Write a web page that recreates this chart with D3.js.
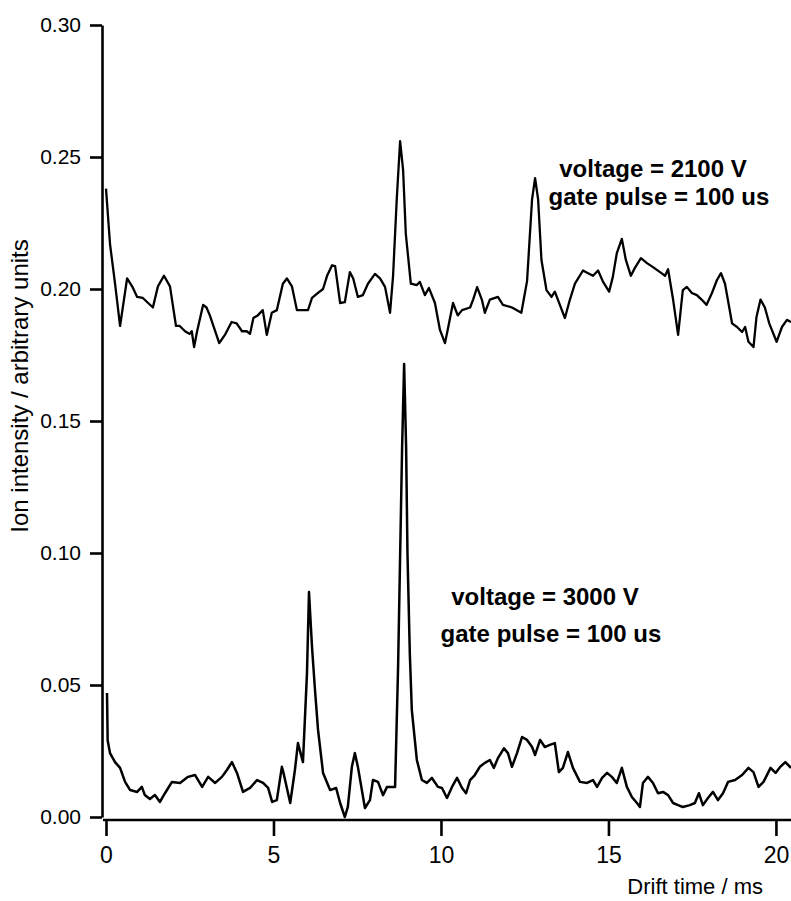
<!DOCTYPE html>
<html>
<head>
<meta charset="utf-8">
<script src="https://cdn.jsdelivr.net/npm/d3@7"></script>
<style>
  body { margin: 0; background: #fff; }
  svg { display: block; font-family: Arial, "Liberation Sans", sans-serif; }
</style>
</head>
<body>
<svg width="791" height="901"></svg>
<script>
// drift time (ms), ion intensity for the 2100 V run
var upperTrace = [
  [0.00,0.238],[0.12,0.217],[0.27,0.202],[0.42,0.186],[0.63,0.204],[0.78,0.201],[0.93,0.197],
  [1.10,0.1966],[1.40,0.193],[1.55,0.201],[1.73,0.205],[1.91,0.201],[2.09,0.186],[2.20,0.186],
  [2.36,0.184],[2.50,0.183],[2.56,0.184],[2.63,0.178],[2.72,0.184],[2.90,0.194],[3.00,0.193],
  [3.10,0.190],[3.38,0.1795],[3.55,0.1826],[3.75,0.1875],[3.90,0.187],[4.06,0.184],[4.20,0.184],
  [4.30,0.183],[4.40,0.189],[4.53,0.190],[4.68,0.192],[4.80,0.1826],[4.95,0.191],[5.10,0.192],
  [5.28,0.202],[5.40,0.204],[5.55,0.201],[5.70,0.192],[6.03,0.192],[6.15,0.1966],[6.33,0.1985],
  [6.48,0.200],[6.60,0.205],[6.75,0.209],[6.84,0.2087],[6.99,0.1947],[7.13,0.195],[7.28,0.2064],
  [7.38,0.204],[7.52,0.197],[7.67,0.1977],[7.82,0.202],[8.03,0.2057],[8.18,0.204],[8.33,0.2008],
  [8.48,0.191],[8.57,0.205],[8.68,0.234],[8.78,0.256],[8.87,0.245],[8.95,0.221],[9.10,0.202],
  [9.28,0.2015],[9.37,0.2027],[9.52,0.1977],[9.64,0.2004],[9.82,0.1947],[9.97,0.1845],
  [10.12,0.1795],[10.20,0.1845],[10.36,0.1947],[10.50,0.190],[10.63,0.192],[10.87,0.193],
  [10.96,0.196],[11.08,0.2007],[11.22,0.196],[11.31,0.191],[11.46,0.196],[11.70,0.197],
  [11.85,0.194],[12.12,0.193],[12.40,0.191],[12.57,0.203],[12.72,0.234],[12.81,0.242],
  [12.90,0.234],[13.00,0.211],[13.15,0.1996],[13.30,0.197],[13.40,0.199],[13.55,0.194],
  [13.70,0.189],[13.85,0.196],[14.00,0.202],[14.24,0.207],[14.39,0.206],[14.54,0.205],
  [14.69,0.207],[14.84,0.2027],[15.02,0.199],[15.13,0.2045],[15.25,0.2136],[15.40,0.219],
  [15.52,0.211],[15.67,0.205],[15.79,0.208],[15.97,0.2117],[16.15,0.2098],[16.33,0.2083],
  [16.54,0.2064],[16.69,0.205],[16.78,0.2075],[16.93,0.196],[17.08,0.1826],[17.22,0.1996],
  [17.34,0.2008],[17.49,0.1985],[17.64,0.1977],[17.78,0.196],[17.93,0.194],[18.09,0.1985],
  [18.24,0.2034],[18.36,0.206],[18.48,0.202],[18.69,0.187],[18.84,0.1856],[18.99,0.1837],
  [19.08,0.1856],[19.18,0.180],[19.33,0.178],[19.42,0.1894],[19.54,0.196],[19.67,0.193],
  [19.80,0.187],[20.02,0.180],[20.18,0.1856],[20.33,0.1883],[20.45,0.1875]
];

// drift time (ms), ion intensity for the 3000 V run
var lowerTrace = [
  [0.03,0.047],[0.05,0.029],[0.12,0.0242],[0.27,0.0208],[0.42,0.0186],[0.57,0.0133],[0.72,0.0102],
  [0.93,0.0095],[1.07,0.0114],[1.16,0.0083],[1.31,0.0068],[1.46,0.0083],[1.61,0.0057],[1.76,0.009],
  [1.97,0.0133],[2.21,0.0129],[2.45,0.0152],[2.66,0.0159],[2.87,0.0114],[3.05,0.0152],[3.26,0.0129],
  [3.46,0.0152],[3.61,0.0178],[3.76,0.0208],[3.91,0.0167],[4.09,0.0095],[4.30,0.011],[4.51,0.014],
  [4.69,0.0129],[4.84,0.011],[4.96,0.0057],[5.10,0.0064],[5.25,0.019],[5.30,0.0167],[5.50,0.0053],
  [5.64,0.0178],[5.73,0.028],[5.88,0.0208],[6.00,0.0545],[6.06,0.0852],[6.15,0.0644],[6.24,0.048],
  [6.33,0.033],[6.48,0.0167],[6.69,0.0102],[6.87,0.011],[6.99,0.0053],[7.13,0.000],[7.22,0.0038],
  [7.34,0.019],[7.43,0.0242],[7.52,0.019],[7.73,0.0034],[7.88,0.0064],[7.97,0.014],[8.12,0.0133],
  [8.27,0.0083],[8.39,0.0114],[8.63,0.0114],[8.72,0.0568],[8.84,0.140],[8.90,0.1716],[8.96,0.140],
  [9.00,0.100],[9.07,0.062],[9.13,0.0405],[9.28,0.0216],[9.43,0.014],[9.58,0.0129],[9.73,0.0148],
  [9.91,0.0114],[10.03,0.011],[10.18,0.0072],[10.33,0.0114],[10.48,0.0148],[10.63,0.011],
  [10.75,0.009],[10.87,0.014],[11.01,0.0159],[11.16,0.019],[11.31,0.0205],[11.46,0.0216],
  [11.58,0.0186],[11.70,0.0223],[11.88,0.026],[12.00,0.0242],[12.12,0.019],[12.27,0.0242],
  [12.42,0.0303],[12.57,0.0292],[12.72,0.0265],[12.81,0.0235],[12.96,0.0292],[13.10,0.0265],
  [13.25,0.0273],[13.40,0.028],[13.52,0.017],[13.64,0.0186],[13.79,0.0246],[13.94,0.0186],
  [14.15,0.0133],[14.36,0.0129],[14.54,0.014],[14.66,0.0114],[14.81,0.0148],[14.96,0.0167],
  [15.10,0.0152],[15.25,0.0129],[15.40,0.0186],[15.55,0.0114],[15.70,0.0076],[15.85,0.0053],
  [15.94,0.0038],[16.03,0.0129],[16.18,0.0152],[16.33,0.0129],[16.48,0.009],[16.63,0.0095],
  [16.78,0.0083],[16.93,0.0053],[17.08,0.0045],[17.22,0.0038],[17.43,0.0045],[17.58,0.0053],
  [17.70,0.009],[17.82,0.0045],[17.97,0.0072],[18.12,0.0095],[18.27,0.0064],[18.42,0.009],
  [18.57,0.0133],[18.78,0.014],[18.99,0.0159],[19.18,0.0186],[19.33,0.017],[19.48,0.0114],
  [19.63,0.0133],[19.84,0.0186],[19.99,0.0167],[20.13,0.019],[20.28,0.0208],[20.45,0.0186]
];

var xTicks = [0, 5, 10, 15, 20];
var yTicks = [0, 0.05, 0.10, 0.15, 0.20, 0.25, 0.30];

var svg = d3.select("svg");

var x = d3.scaleLinear().domain([0, 20.45]).range([106, 791]);
var y = d3.scaleLinear().domain([0, 0.30]).range([817, 25]);

// y axis
var yAxis = svg.append("g")
    .attr("transform", "translate(102,0)")
    .call(d3.axisLeft(y).tickValues(yTicks).tickFormat(d3.format(".2f")).tickSize(12).tickSizeOuter(0).tickPadding(9));
yAxis.selectAll("text").style("font-size", "21px").attr("fill", "#000");

// x axis
var xAxis = svg.append("g")
    .attr("transform", "translate(0,820)")
    .call(d3.axisBottom(x).tickValues(xTicks).tickFormat(d3.format("d")).tickSize(16).tickSizeOuter(0).tickPadding(11));
xAxis.selectAll("text").style("font-size", "23px").attr("fill", "#000");
xAxis.select(".domain").attr("d", "M103,0H791");

svg.selectAll(".domain, .tick line").attr("stroke", "#000").attr("stroke-width", 2.6);

svg.append("text")
    .attr("x", 763).attr("y", 894)
    .attr("text-anchor", "end")
    .style("font-size", "22px")
    .text("Drift time / ms");

svg.append("text")
    .attr("transform", "translate(28,386) rotate(-90)")
    .attr("text-anchor", "middle")
    .style("font-size", "24px")
    .text("Ion intensity / arbitrary units");

var line = d3.line()
    .x(function(d) { return x(d[0]); })
    .y(function(d) { return y(d[1]); });

svg.append("path")
    .datum(upperTrace)
    .attr("fill", "none").attr("stroke", "#000").attr("stroke-width", 2.3)
    .attr("stroke-linejoin", "round")
    .attr("d", line);

svg.append("path")
    .datum(lowerTrace)
    .attr("fill", "none").attr("stroke", "#000").attr("stroke-width", 2.5)
    .attr("stroke-linejoin", "round")
    .attr("d", line);

// annotations
var notes = [
  {x: 653, y: 177, t: "voltage = 2100 V"},
  {x: 659, y: 205, t: "gate pulse = 100 us"},
  {x: 545, y: 605, t: "voltage = 3000 V"},
  {x: 551, y: 642, t: "gate pulse = 100 us"}
];
svg.selectAll(".note")
    .data(notes)
    .enter().append("text")
    .attr("class", "note")
    .attr("x", function(d) { return d.x; })
    .attr("y", function(d) { return d.y; })
    .attr("text-anchor", "middle")
    .style("font-size", "24px")
    .style("font-weight", "bold")
    .text(function(d) { return d.t; });
</script>
</body>
</html>
